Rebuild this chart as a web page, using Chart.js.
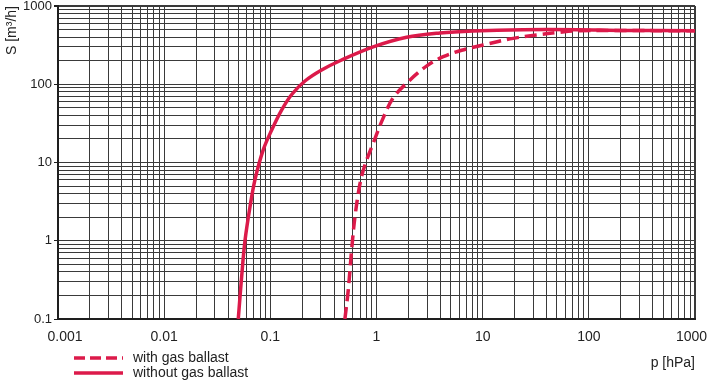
<!DOCTYPE html>
<html><head><meta charset="utf-8">
<script src="https://cdn.jsdelivr.net/npm/chart.js@4"></script>
<style>html,body{margin:0;padding:0;background:#fff}#wrap{width:709px;height:381px;position:relative}</style>
</head><body><div id="wrap"><canvas id="c" width="709" height="381"></canvas></div>
<script>
// Data (pressure p in hPa, pumping speed S in m³/h)
const pressureWithBallast = [0.504, 0.542, 0.583, 0.627, 0.70, 0.778, 0.93, 1.16, 1.435, 1.99, 3.0, 4.25, 6.33, 10.1, 19.4, 32, 53, 82, 168, 1000];
const speedWithBallast    = [0.1, 0.235, 0.76, 2.03, 5.4, 9.3, 17.6, 37.5, 67, 108, 173, 225, 272, 318, 386, 425, 461, 484, 486, 482];
const pressureWithoutBallast = [0.0499, 0.0537, 0.0577, 0.0643, 0.0716, 0.0857, 0.103, 0.128, 0.159, 0.212, 0.304, 0.469, 0.93, 1.92, 3.95, 8.1, 24, 80, 200, 1000];
const speedWithoutBallast    = [0.1, 0.35, 1.0, 2.7, 6.0, 14.5, 26, 47, 74, 110, 152, 204, 300, 398, 452, 480, 498, 498, 488, 484];
const seriesNames = ['with gas ballast', 'without gas ballast'];
const xTickLabels = ['0.001', '0.01', '0.1', '1', '10', '100', '1000'];
const yTickLabels = ['0.1', '1', '10', '100', '1000'];
const decadeSteps = [1, 2, 3, 4, 5, 6, 7, 8, 9];
const xTitle = 'p [hPa]';
const yTitle = 'S [m³/h]';

const RED = '#dc1a4a';
const GRID = '#3a3a3a';
const AXIS = '#1e1e1e';
const TEXT = '#222';
const FONT = '"Liberation Sans", Arial, sans-serif';

function buildTicks(labels) {
  const out = [];
  labels.forEach((l, i) => {
    const base = parseFloat(l);
    if (i === labels.length - 1) { out.push({value: base, text: l}); return; }
    decadeSteps.forEach(s => out.push({value: +(base * s).toPrecision(6), text: s === 1 ? l : ''}));
  });
  return out;
}
const xTicks = buildTicks(xTickLabels);
const yTicks = buildTicks(yTickLabels);
// the outermost x labels sit slightly inside the frame, as in the reference
xTicks[0].text = '\u2002\u2002' + xTicks[0].text;
xTicks[xTicks.length - 1].text = xTicks[xTicks.length - 1].text + '\u2002';

const toPts = (xs, ys) => xs.map((x, i) => ({x: x, y: ys[i]}));

const legendPlugin = {
  id: 'customLegend',
  afterDraw(chart) {
    const ctx = chart.ctx;
    ctx.save();
    const items = [
      {y: 358, dash: [11, 5], label: seriesNames[0]},
      {y: 373, dash: [], label: seriesNames[1]}
    ];
    items.forEach(it => {
      ctx.strokeStyle = RED;
      ctx.lineWidth = 3.5;
      ctx.setLineDash(it.dash);
      ctx.beginPath();
      ctx.moveTo(74, it.y);
      ctx.lineTo(123, it.y);
      ctx.stroke();
      ctx.setLineDash([]);
      ctx.fillStyle = TEXT;
      ctx.font = '14px ' + FONT;
      ctx.textBaseline = 'middle';
      ctx.textAlign = 'left';
      ctx.fillText(it.label, 133, it.y);
    });
    ctx.restore();
  }
};

new Chart(document.getElementById('c'), {
  type: 'line',
  data: {
    datasets: [
      {
        label: seriesNames[0],
        data: toPts(pressureWithBallast, speedWithBallast),
        borderColor: RED, borderWidth: 3.5, borderDash: [12, 6],
        pointRadius: 0, fill: false, tension: 0.35
      },
      {
        label: seriesNames[1],
        data: toPts(pressureWithoutBallast, speedWithoutBallast),
        borderColor: RED, borderWidth: 3.5,
        pointRadius: 0, fill: false, tension: 0.35
      }
    ]
  },
  options: {
    responsive: false,
    animation: false,
    devicePixelRatio: 1,
    layout: {padding: {left: 0, right: 14, top: 6, bottom: 0}},
    plugins: {legend: {display: false}, tooltip: {enabled: false}},
    scales: {
      x: {
        type: 'logarithmic', min: 0.001, max: 1000,
        afterBuildTicks: s => { s.ticks = xTicks.map(t => ({value: t.value})); },
        afterFit: s => { s.height = 62; s.paddingLeft = 0; s.paddingRight = 0; },
        ticks: {
          autoSkip: false, maxRotation: 0, padding: 10, color: TEXT,
          font: {size: 14, family: FONT},
          callback: (v, i) => xTicks[i] ? xTicks[i].text : ''
        },
        grid: {
          color: GRID, drawTicks: false,
          lineWidth: c => (c.tick && c.tick.value === 1000) ? 2 : 1
        },
        border: {display: true, width: 2, color: AXIS},
        title: {
          display: true, text: xTitle, align: 'end', color: TEXT,
          font: {size: 14, family: FONT},
          padding: {top: 0, bottom: 9}
        }
      },
      y: {
        type: 'logarithmic', min: 0.1, max: 1000,
        afterBuildTicks: s => { s.ticks = yTicks.map(t => ({value: t.value})); },
        afterFit: s => { s.width = 58; s.paddingTop = 0; s.paddingBottom = 0; },
        ticks: {
          autoSkip: false, padding: 2, color: TEXT,
          font: {size: 13, family: FONT},
          callback: (v, i) => yTicks[i] ? yTicks[i].text : ''
        },
        grid: {
          color: GRID, tickLength: 4,
          tickColor: c => (c.tick && yTicks[c.index] && yTicks[c.index].text) ? AXIS : 'rgba(0,0,0,0)',
          lineWidth: c => (c.tick && c.tick.value === 1000) ? 2 : 1
        },
        border: {display: true, width: 2, color: AXIS},
        title: {
          display: true, text: yTitle, align: 'end', color: TEXT,
          font: {size: 14, family: FONT},
          padding: {top: 4, bottom: 0}
        }
      }
    }
  },
  plugins: [legendPlugin]
});
</script></body></html>
